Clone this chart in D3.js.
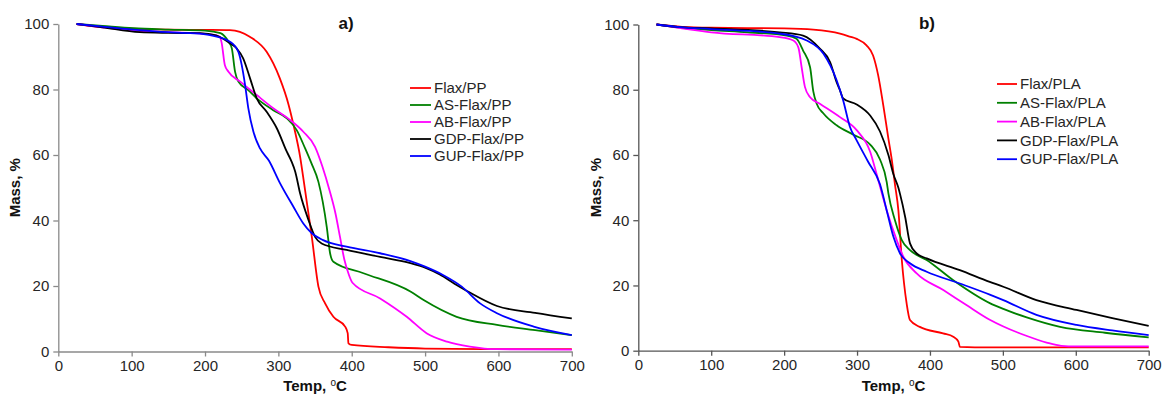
<!DOCTYPE html>
<html>
<head>
<meta charset="utf-8">
<script src="https://cdn.jsdelivr.net/npm/d3@7"></script>
<style>
  body { margin: 0; background: #fff; }
  svg { display: block; font-family: "Liberation Sans", Arial, sans-serif; }
</style>
</head>
<body>
<svg id="chart" width="1163" height="394"></svg>
<script>
// tick values
const tempTicks = [0, 100, 200, 300, 400, 500, 600, 700];
const massTicks = [0, 20, 40, 60, 80, 100];
const seriesColors = ['#ff0000', '#008000', '#ff00ff', '#000000', '#0000ff'];

// panel a) PP composites  [temp, mass]
const flaxPP = [[25,100],[50,99.3],[100,98.6],[150,98.3],[200,98.2],[234,98.1],[261,96.1],[284,91.5],[302,83.4],[314,75.3],[320.6,69.2],[330,59],[334,53],[345.6,35],[354.6,19.8],[363.7,14.7],[375,10.6],[391,7.6],[394.5,5.6],[395.5,2.5],[400,2.0],[450,1.3],[500,0.9],[600,0.7],[700,0.7]];
const asFlaxPP = [[25,100],[60,99.4],[102,98.7],[150,98.3],[200,98],[221,97.2],[232,94.6],[236.5,92.6],[241,85.4],[245.5,82.4],[259,79.8],[270.5,77.3],[293,73.7],[311.5,71.2],[325,67.6],[336.5,62],[345,57.5],[354.6,51.8],[366,38],[370.5,30],[375,27.4],[416,23.9],[480,18.3],[498,15.7],[543,10.6],[598,8.1],[650,6.5],[700,5]];
const abFlaxPP = [[25,100],[60,99],[102,98],[150,97.5],[200,97],[216,96.5],[220.5,96],[222.8,94.1],[227,87.5],[232,85.4],[248,82.4],[270.5,78.3],[293,74.3],[316,70.7],[334,67.1],[350,62.5],[360,56.5],[370,49],[378,42],[384,35],[390,28],[396,23.5],[401,21],[438.7,16.2],[475,10.6],[502,5.6],[530,3],[561,1.5],[598,0.7],[700,0.6]];
const gdpFlaxPP = [[25,100],[60,99],[111,97.5],[150,97.3],[193,97.2],[215,96.5],[234,94.1],[243,92.6],[252,89.5],[261.4,83.4],[270.5,77.3],[284,73.2],[298,68.1],[311.5,61],[318,58],[323,54.9],[329.6,48.3],[341,40.2],[350,35],[359,33],[393,31],[438.7,28.9],[480,27],[500,25.6],[520,23.5],[540,20.7],[557,18.5],[598,13.9],[650,11.8],[700,10.1]];
const gupFlaxPP = [[25,100],[60,99.2],[102,98.3],[150,97.5],[180,97.2],[207,96.6],[234,94.6],[245.5,91.5],[250,87.5],[254.6,81.4],[259,74.3],[266,67.1],[275,62],[287,58.3],[302,51.5],[320.5,44.2],[334,39.1],[345.6,36.1],[361,34],[393,32],[438.7,30],[480,27.6],[500,25.9],[525,23.3],[550,19.8],[575,14.7],[598,11.7],[648,7.6],[700,5]];

// panel b) PLA composites
const flaxPLA = [[25,100],[60,99.3],[100,99],[200,98.8],[240,98.4],[276.6,97.2],[290,96.3],[299.5,95.6],[313,93.6],[322,90.5],[329,84.4],[336,75.2],[343,65],[348,58],[352,51],[356.7,43],[361.4,27.8],[368,14.5],[372.6,9.4],[386,7.3],[418,5.3],[432,4.3],[439,2.8],[441,1.2],[482,1.0],[700,1.0]];
const asFlaxPLA = [[25,100],[60,99],[100,98.3],[150,97.6],[203.5,96.6],[217,95.6],[226,92],[235.6,86.9],[240,79.5],[244.7,75.7],[254,72.7],[272,69.1],[295,66.2],[318,63.2],[331.5,58.6],[340.7,51.7],[343,48.2],[352,40],[361.4,33.9],[372.6,30.8],[395.5,27.8],[432,21.6],[482,14.6],[500.6,12.8],[532.7,10.2],[578.4,7.3],[640,5.5],[700,4.1]];
const abFlaxPLA = [[25,100],[60,98.8],[100,97.6],[194,96.1],[212.6,95.1],[219.5,93],[224,86.9],[228.6,80.8],[235.6,77.7],[249,75.7],[276.6,71.6],[299.5,67.6],[318,61],[327,54],[340.7,43],[354.4,33.9],[363.5,28.8],[381.8,23.7],[418.3,18.6],[450,14],[482,9.5],[500,7.5],[533,4.5],[560,2.5],[580,1.5],[600,1.3],[700,1.3]];
const gdpFlaxPLA = [[25,100],[57,99.2],[100,98.8],[194,97.6],[226,96.6],[249,92.6],[263,88.5],[272,82.3],[276.6,79.8],[281,77.3],[299.5,75.5],[318,72.1],[331.5,67.2],[343,60],[350,54],[356.6,50],[359,48],[366,41],[372.6,32.9],[381.8,29.8],[395.5,28.3],[441,24.7],[482,21.1],[500.6,19.6],[546,15.5],[601,12.5],[650,10],[700,7.6]];
const gupFlaxPLA = [[25,100],[57,99.2],[100,98.6],[194,97.2],[231,95.1],[254,91],[272,82.9],[281,76.7],[290.3,68.6],[299.5,64.5],[315,58],[331.5,51],[340.7,43],[349.8,35],[359,29.8],[372.6,26.8],[395.5,24.2],[441,20.6],[482,17.2],[500.6,15.5],[546,11],[601,7.9],[650,6.2],[700,4.8]];

const namesPP = ['Flax/PP', 'AS-Flax/PP', 'AB-Flax/PP', 'GDP-Flax/PP', 'GUP-Flax/PP'];
const namesPLA = ['Flax/PLA', 'AS-Flax/PLA', 'AB-Flax/PLA', 'GDP-Flax/PLA', 'GUP-Flax/PLA'];

const svg = d3.select('#chart');

function drawPanel(p) {
    let x = d3.scaleLinear().domain([0, 700]).range([p.left, p.right]);
    let y = d3.scaleLinear().domain([0, 100]).range([p.bottom, p.top]);
    let g = svg.append('g');

    let xAxis = g.append('g')
        .attr('transform', `translate(0,${p.bottom})`)
        .call(d3.axisBottom(x).tickValues(tempTicks).tickSize(5).tickSizeOuter(0).tickPadding(4));
    let yAxis = g.append('g')
        .attr('transform', `translate(${p.left},0)`)
        .call(d3.axisLeft(y).tickValues(massTicks).tickSize(5).tickSizeOuter(0).tickPadding(4));
    [xAxis, yAxis].forEach(a => {
        a.selectAll('path,line').attr('stroke', p.axisColor).attr('stroke-width', 1.3);
        a.selectAll('text').attr('fill', '#262626').style('font-size', '15px')
            .style('font-family', '"Liberation Sans", Arial, sans-serif');
    });

    let line = d3.line().x(d => x(d[0])).y(d => y(d[1])).curve(d3.curveMonotoneX);
    g.selectAll('path.series')
        .data(p.series)
        .join('path')
        .attr('class', 'series')
        .attr('d', line)
        .attr('fill', 'none')
        .attr('stroke', (d, i) => seriesColors[i])
        .attr('stroke-width', 1.8);

    // panel tag
    g.append('text').attr('x', p.tagX).attr('y', 29).attr('text-anchor', 'middle')
        .style('font-size', '17px').style('font-weight', 'bold').attr('fill', '#111').text(p.tag);

    // axis titles
    g.append('text')
        .attr('transform', `translate(${p.yTitleX},${(p.top + p.bottom) / 2}) rotate(-90)`)
        .attr('text-anchor', 'middle')
        .style('font-size', '15px').style('font-weight', 'bold').attr('fill', '#111')
        .text('Mass, %');
    let xt = g.append('text')
        .attr('x', (p.left + p.right) / 2).attr('y', 391)
        .attr('text-anchor', 'middle')
        .style('font-size', '15px').style('font-weight', 'bold').attr('fill', '#111');
    xt.append('tspan').text('Temp, ');
    xt.append('tspan').attr('dy', -5).style('font-size', '10px').style('font-weight', 'normal').text('o');
    xt.append('tspan').attr('dy', 5).text('C');

    // legend
    let lg = g.selectAll('g.legend')
        .data(p.names)
        .join('g')
        .attr('class', 'legend')
        .attr('transform', (d, i) => `translate(0,${p.legY + i * p.legDy})`);
    lg.append('line').attr('x1', p.legX1).attr('x2', p.legX2)
        .attr('stroke', (d, i) => seriesColors[i]).attr('stroke-width', 1.8);
    lg.append('text').attr('x', p.legX2 + 3).attr('dy', '0.35em')
        .style('font-size', '15px').attr('fill', '#262626').text(d => d);
}

drawPanel({
    left: 58.3, right: 571.8, top: 24, bottom: 351.5, axisColor: '#8a8a8a',
    series: [flaxPP, asFlaxPP, abFlaxPP, gdpFlaxPP, gupFlaxPP], names: namesPP,
    tag: 'a)', tagX: 346, yTitleX: 20,
    legX1: 410, legX2: 431, legY: 88, legDy: 17
});
drawPanel({
    left: 638.3, right: 1148.7, top: 24.5, bottom: 350.7, axisColor: '#555',
    series: [flaxPLA, asFlaxPLA, abFlaxPLA, gdpFlaxPLA, gupFlaxPLA], names: namesPLA,
    tag: 'b)', tagX: 927, yTitleX: 601,
    legX1: 997, legX2: 1017, legY: 84, legDy: 18.8
});
</script>
</body>
</html>
